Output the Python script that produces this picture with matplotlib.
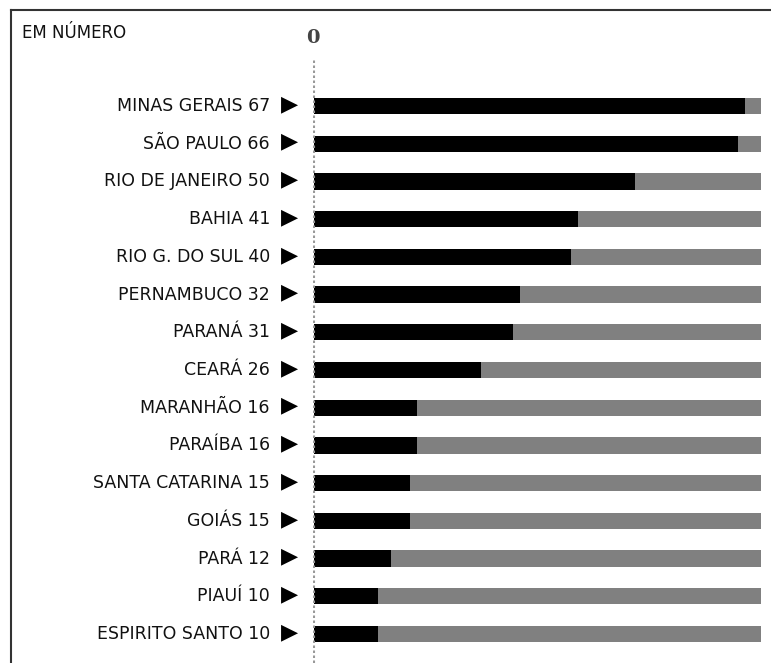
import numpy as np
import matplotlib
matplotlib.use('Agg')
from matplotlib import pyplot as plt

states = ['MINAS GERAIS', 'SÃO PAULO', 'RIO DE JANEIRO', 'BAHIA', 'RIO G. DO SUL',
          'PERNAMBUCO', 'PARANÁ', 'CEARÁ', 'MARANHÃO', 'PARAÍBA',
          'SANTA CATARINA', 'GOIÁS', 'PARÁ', 'PIAUÍ', 'ESPIRITO SANTO']
values = [67, 66, 50, 41, 40, 32, 31, 26, 16, 16, 15, 15, 12, 10, 10]
total = 69.5  # gray track length

fig = plt.figure(figsize=(7.71, 6.63), dpi=100)

# outer frame (left and top edges visible)
fig.add_artist(plt.Line2D([11/771, 11/771], [0, 1 - 10/663], color='#333333', lw=1.5,
                          transform=fig.transFigure))
fig.add_artist(plt.Line2D([11/771, 1], [1 - 10/663, 1 - 10/663], color='#333333', lw=1.5,
                          transform=fig.transFigure))

ax = fig.add_axes([313/771, 0, 451/771, 1 - 60/663])
y = np.arange(len(states))
ax.barh(y, [total] * len(states), height=0.43, color='#808080', left=0)
ax.barh(y, values, height=0.43, color='black', left=0)
ax.axvline(0, color='#999999', lw=1.5, ls=(0, (1.2, 1.2)))
ax.set_xlim(-0.15, 70)
ax.set_ylim(14.77, -1.22)
ax.axis('off')

for i, (s, v) in enumerate(zip(states, values)):
    ax.annotate('%s %d' % (s, v), xy=(0, i), xycoords='data', xytext=(-44, 0),
                textcoords='offset pixels', ha='right', va='center',
                fontsize=12.5, family='DejaVu Sans', color='#111111')
    ax.annotate('\u25B6', xy=(0, i), xycoords='data', xytext=(-24, 2),
                textcoords='offset pixels', ha='center', va='center',
                fontsize=16, family='DejaVu Sans')

fig.text(22/771, 1 - 33/663, 'EM NÚMERO', fontsize=12, family='DejaVu Sans',
         ha='left', va='center', color='#111111')
fig.text(313/771, 1 - 38/663, '0', fontsize=14, family='DejaVu Serif',
         weight='bold', ha='center', va='center', color='#444444')

plt.savefig('out.png', dpi=100)
